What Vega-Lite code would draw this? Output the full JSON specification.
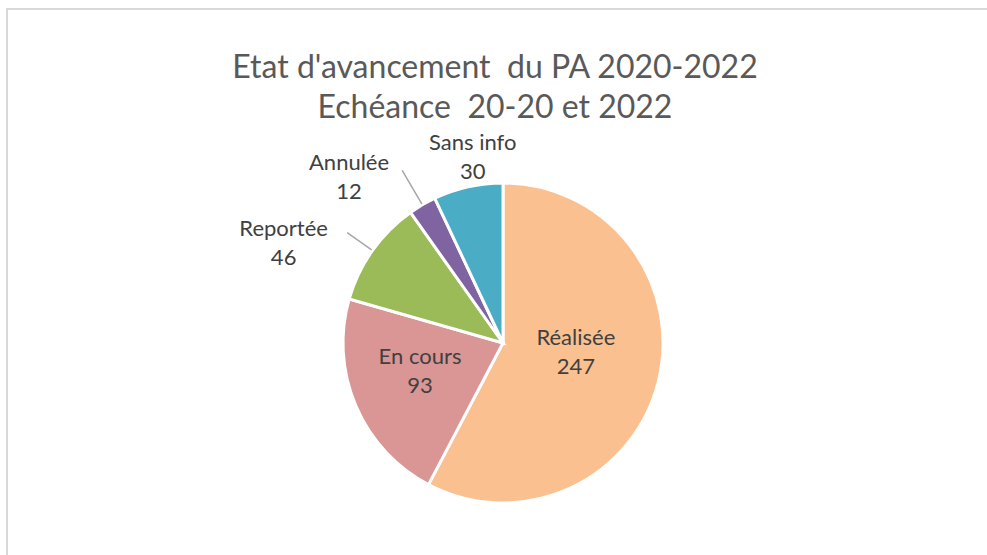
{
  "$schema": "https://vega.github.io/schema/vega-lite/v6.json",
  "autosize": "none",
  "padding": {"left": 7, "top": 9, "right": -4, "bottom": -4},
  "width": 984,
  "height": 550,
  "background": "white",
  "view": {"stroke": "#d9d9d9", "strokeWidth": 2, "fill": "white"},
  "config": {
    "view": {"stroke": "#d9d9d9", "strokeWidth": 2},
    "font": "Lato"
  },
  "title": {
    "text": ["Etat d'avancement\u00a0 du PA 2020-2022", "Echéance\u00a0 20-20 et 2022"],
    "orient": "top",
    "anchor": "middle",
    "frame": "group",
    "baseline": "top",
    "offset": -116,
    "dx": -4,
    "fontSize": 32,
    "fontWeight": "normal",
    "font": "Lato",
    "color": "#595959",
    "lineHeight": 40
  },
  "data": {
    "values": [
      {"category": "Réalisée", "value": 247, "rank": 1},
      {"category": "En cours", "value": 93, "rank": 2},
      {"category": "Reportée", "value": 46, "rank": 3},
      {"category": "Annulée", "value": 12, "rank": 4},
      {"category": "Sans info", "value": 30, "rank": 5}
    ]
  },
  "transform": [
    {"calculate": "datum.category + '\\n' + datum.value", "as": "label"}
  ],
  "layer": [
    {
      "mark": {"type": "arc", "stroke": "white", "strokeWidth": 3, "x": {"expr": "width/2+4"}, "y": {"expr": "height/2+59"}},
      "encoding": {
        "theta": {"field": "value", "type": "quantitative", "stack": true},
        "order": {"field": "rank", "type": "quantitative"},
        "radius": {"value": 160},
        "color": {
          "field": "category", "type": "nominal", "legend": null,
          "scale": {"domain": ["Réalisée", "En cours", "Reportée", "Annulée", "Sans info"],
                    "range": ["#FAC090", "#D99694", "#9BBB59", "#8064A2", "#4BACC6"]}
        }
      }
    },
    {
      "mark": {"type": "arc", "padAngle": 3, "fillOpacity": 0, "strokeWidth": 1.5, "x": {"expr": "width/2+4"}, "y": {"expr": "height/2+59"}},
      "encoding": {
        "theta": {"field": "value", "type": "quantitative", "stack": true},
        "order": {"field": "rank", "type": "quantitative"},
        "radius": {"value": 161},
        "radius2": {"value": 191},
        "stroke": {"condition": {"test": "datum.category === 'Reportée'", "value": "#a6a6a6"}, "value": "transparent"}
      }
    },
    {
      "mark": {"type": "arc", "padAngle": 3, "fillOpacity": 0, "strokeWidth": 1.5, "x": {"expr": "width/2+4"}, "y": {"expr": "height/2+59"}},
      "encoding": {
        "theta": {"field": "value", "type": "quantitative", "stack": true},
        "order": {"field": "rank", "type": "quantitative"},
        "radius": {"value": 161},
        "radius2": {"value": 200},
        "stroke": {"condition": {"test": "datum.category === 'Annulée'", "value": "#a6a6a6"}, "value": "transparent"}
      }
    },
    {
      "mark": {"type": "text", "fontSize": 22, "lineHeight": 29, "lineBreak": "\n", "color": "#404040", "align": "center", "baseline": "middle", "dx": 1, "dy": -23, "x": {"expr": "width/2+4"}, "y": {"expr": "height/2+59"}},
      "encoding": {
        "theta": {"field": "value", "type": "quantitative", "stack": true},
        "order": {"field": "rank", "type": "quantitative"},
        "radius": {"value": 74},
        "text": {"field": "label", "type": "nominal"},
        "opacity": {"condition": {"test": "datum.category === 'Réalisée'", "value": 1}, "value": 0}
      }
    },
    {
      "mark": {"type": "text", "fontSize": 22, "lineHeight": 29, "lineBreak": "\n", "color": "#404040", "align": "center", "baseline": "middle", "dx": -3, "dy": -20, "x": {"expr": "width/2+4"}, "y": {"expr": "height/2+59"}},
      "encoding": {
        "theta": {"field": "value", "type": "quantitative", "stack": true},
        "order": {"field": "rank", "type": "quantitative"},
        "radius": {"value": 87},
        "text": {"field": "label", "type": "nominal"},
        "opacity": {"condition": {"test": "datum.category === 'En cours'", "value": 1}, "value": 0}
      }
    },
    {
      "mark": {"type": "text", "fontSize": 22, "lineHeight": 29, "lineBreak": "\n", "color": "#404040", "align": "center", "baseline": "middle", "dx": -26, "dy": 23, "x": {"expr": "width/2+4"}, "y": {"expr": "height/2+59"}},
      "encoding": {
        "theta": {"field": "value", "type": "quantitative", "stack": true},
        "order": {"field": "rank", "type": "quantitative"},
        "radius": {"value": 237},
        "text": {"field": "label", "type": "nominal"},
        "opacity": {"condition": {"test": "datum.category === 'Reportée'", "value": 1}, "value": 0}
      }
    },
    {
      "mark": {"type": "text", "fontSize": 22, "lineHeight": 29, "lineBreak": "\n", "color": "#404040", "align": "center", "baseline": "middle", "dx": -42, "dy": 12, "x": {"expr": "width/2+4"}, "y": {"expr": "height/2+59"}},
      "encoding": {
        "theta": {"field": "value", "type": "quantitative", "stack": true},
        "order": {"field": "rank", "type": "quantitative"},
        "radius": {"value": 222},
        "text": {"field": "label", "type": "nominal"},
        "opacity": {"condition": {"test": "datum.category === 'Annulée'", "value": 1}, "value": 0}
      }
    },
    {
      "mark": {"type": "text", "fontSize": 22, "lineHeight": 29, "lineBreak": "\n", "color": "#404040", "align": "center", "baseline": "middle", "dx": 11, "dy": -16, "x": {"expr": "width/2+4"}, "y": {"expr": "height/2+59"}},
      "encoding": {
        "theta": {"field": "value", "type": "quantitative", "stack": true},
        "order": {"field": "rank", "type": "quantitative"},
        "radius": {"value": 189},
        "text": {"field": "label", "type": "nominal"},
        "opacity": {"condition": {"test": "datum.category === 'Sans info'", "value": 1}, "value": 0}
      }
    }
  ]
}
